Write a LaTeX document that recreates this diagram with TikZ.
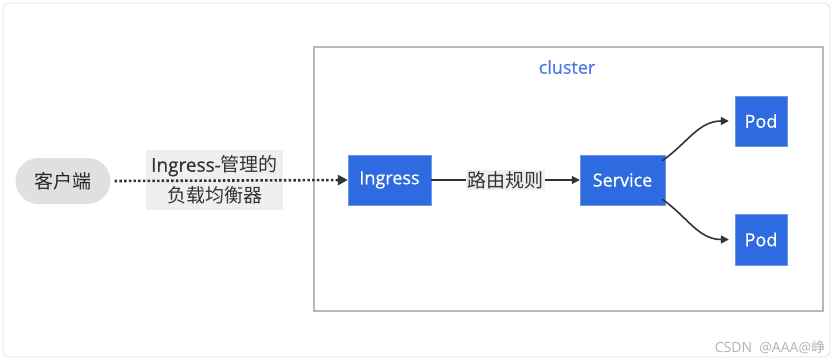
\documentclass[tikz,border=0pt]{standalone}
\usepackage{fontspec}
\setmainfont{Open Sans}
\newfontfamily\semib[FakeBold=0.6]{Open Sans}
\newfontfamily\cjk{Noto Sans CJK SC}
\usetikzlibrary{arrows.meta,positioning}
\definecolor{nodeblue}{HTML}{2F6BE0}
\definecolor{clblue}{HTML}{4A78E8}
\definecolor{edgecol}{HTML}{333333}
\definecolor{lblbg}{HTML}{EFEFEF}
\begin{document}
\begin{tikzpicture}[x=1pt,y=-1pt,
  bluebox/.style={draw=nodeblue!70!white,fill=nodeblue,text=white,minimum width=83pt,minimum height=50pt,inner sep=0pt,font=\fontsize{18}{20}\semib},
  podbox/.style={bluebox,minimum width=52pt,minimum height=50pt},
  conn/.style={draw=edgecol,line width=1.6pt,-{Triangle[length=8pt,width=8pt]}},
  lbl/.style={fill=lblbg,text=edgecol,font=\fontsize{19}{31}\cjk,inner sep=2pt,align=center}]
\useasboundingbox (0,0) rectangle (836,362);
\draw[draw=black!12,line width=0.8pt,rounded corners=6pt] (3,3) rectangle (830,357);
\draw[draw=black!28,line width=2pt] (314,47) rectangle (823,311);
\node[text=clblue,font=\fontsize{18}{20}\semib] (cl) at (567,67) {cluster};
\node[fill=black!12,rounded corners=23pt,minimum width=95pt,minimum height=46pt,inner sep=0pt,font=\fontsize{19}{22}\cjk,text=black!85] (client) at (63,181) {客户端};
\node[bluebox] (ing) at (389.5,180) {Ingress};
\node[bluebox,minimum width=85pt] (svc) at (622.5,180) {Service};
\node[podbox] (pod1) at (761,121) {Pod};
\node[podbox,minimum height=51pt] (pod2) at (761,239.5) {Pod};
\node[lbl,minimum width=137pt,minimum height=60pt,inner sep=0pt] (l1) at (214.5,180) {{\semib Ingress-}管理的\\负载均衡器};
\draw[conn,dash pattern=on 2.5pt off 2.2pt,line width=2.6pt,-{Triangle[length=10pt,width=10pt]}] (client.east) ++(4,0) coordinate (cs) -- (ing.west);
\draw[conn] (ing) -- node[lbl,inner sep=1.5pt] (l2) {路由规则} (svc);
\draw[conn] ([xshift=-3pt,yshift=-6pt]svc.north east) to[out=35,in=180] ([xshift=-6pt]pod1.west);
\draw[conn] ([xshift=-3pt,yshift=6pt]svc.south east) to[out=-35,in=180] ([xshift=-6pt]pod2.west);
\node[text=black!30,font=\fontsize{14}{16}\selectfont] (wm) at (770,347) {CSDN \ @AAA@{\cjk 峥}};
\end{tikzpicture}
\end{document}
